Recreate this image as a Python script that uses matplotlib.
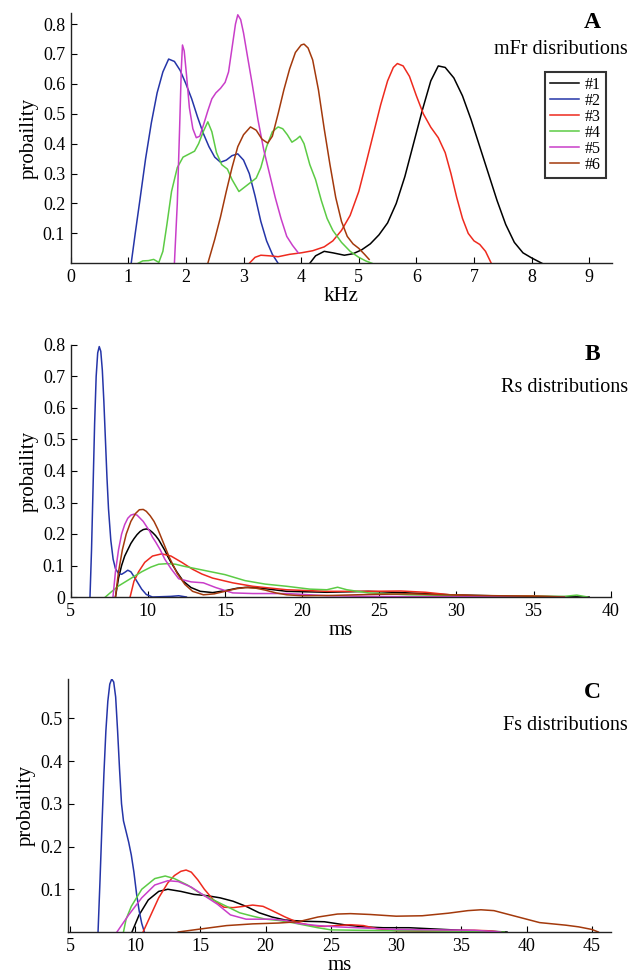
import matplotlib
matplotlib.use("Agg")
import matplotlib.pyplot as plt

plt.rcParams['font.family'] = ['Liberation Serif', 'DejaVu Serif']

W, H = 642, 973

names = ['#1', '#2', '#3', '#4', '#5', '#6']
colors = ['#000000', '#2535a8', '#ee2a1e', '#5ccb45', '#c93ec9', '#a3390c']

# ---- panel A: mFr distributions (kHz) ----
a1_x = [4.15, 4.25, 4.4, 4.55, 4.75, 4.9, 5.05, 5.2, 5.35, 5.5, 5.65, 5.8, 5.95, 6.1, 6.25, 6.38, 6.5, 6.65, 6.8, 6.95, 7.1, 7.25, 7.4, 7.55, 7.7, 7.85, 8.0, 8.1, 8.18]
a1_y = [0.0, 0.025, 0.04, 0.035, 0.027, 0.032, 0.045, 0.065, 0.095, 0.135, 0.2, 0.29, 0.4, 0.51, 0.61, 0.66, 0.655, 0.62, 0.56, 0.48, 0.39, 0.3, 0.21, 0.13, 0.07, 0.035, 0.018, 0.008, 0.0]
a2_x = [1.05, 1.12, 1.2, 1.3, 1.4, 1.5, 1.6, 1.7, 1.8, 1.9, 2.0, 2.1, 2.2, 2.3, 2.4, 2.5, 2.6, 2.7, 2.8, 2.9, 3.0, 3.1, 3.2, 3.3, 3.4, 3.5, 3.6]
a2_y = [0.0, 0.1, 0.21, 0.35, 0.47, 0.57, 0.64, 0.683, 0.675, 0.645, 0.6, 0.55, 0.49, 0.435, 0.39, 0.355, 0.338, 0.345, 0.36, 0.366, 0.345, 0.3, 0.225, 0.14, 0.075, 0.03, 0.0]
a3_x = [3.1, 3.2, 3.3, 3.45, 3.6, 3.8, 4.0, 4.2, 4.4, 4.55, 4.7, 4.85, 5.0, 5.12, 5.25, 5.38, 5.5, 5.6, 5.67, 5.77, 5.88, 6.0, 6.12, 6.25, 6.38, 6.5, 6.6, 6.7, 6.8, 6.9, 7.0, 7.1, 7.2, 7.3]
a3_y = [0.0, 0.02, 0.027, 0.025, 0.022, 0.03, 0.035, 0.042, 0.055, 0.075, 0.11, 0.16, 0.24, 0.33, 0.43, 0.53, 0.61, 0.655, 0.668, 0.66, 0.625, 0.56, 0.5, 0.455, 0.42, 0.37, 0.3, 0.22, 0.15, 0.1, 0.075, 0.063, 0.04, 0.0]
a4_x = [1.17, 1.25, 1.35, 1.44, 1.53, 1.6, 1.67, 1.75, 1.85, 1.95, 2.05, 2.15, 2.22, 2.3, 2.38, 2.45, 2.53, 2.62, 2.72, 2.8, 2.92, 3.02, 3.12, 3.22, 3.3, 3.4, 3.5, 3.6, 3.68, 3.76, 3.84, 3.92, 3.98, 4.05, 4.15, 4.25, 4.35, 4.45, 4.55, 4.7, 4.85, 5.0, 5.12, 5.23]
a4_y = [0.0, 0.008, 0.009, 0.013, 0.003, 0.04, 0.13, 0.24, 0.32, 0.355, 0.365, 0.375, 0.4, 0.44, 0.473, 0.44, 0.37, 0.33, 0.315, 0.28, 0.24, 0.255, 0.27, 0.285, 0.32, 0.39, 0.44, 0.456, 0.45, 0.43, 0.405, 0.415, 0.425, 0.4, 0.33, 0.28, 0.21, 0.15, 0.11, 0.07, 0.04, 0.02, 0.008, 0.0]
a5_x = [1.8, 1.85, 1.89, 1.92, 1.94, 1.97, 2.01, 2.06, 2.12, 2.18, 2.24, 2.3, 2.38, 2.45, 2.52, 2.6, 2.68, 2.74, 2.8, 2.86, 2.9, 2.95, 3.0, 3.07, 3.15, 3.25, 3.35, 3.45, 3.55, 3.65, 3.75, 3.85, 3.95]
a5_y = [0.0, 0.2, 0.45, 0.65, 0.73, 0.71, 0.63, 0.52, 0.45, 0.42, 0.425, 0.46, 0.51, 0.55, 0.57, 0.585, 0.605, 0.64, 0.72, 0.8, 0.831, 0.815, 0.77, 0.69, 0.6, 0.48, 0.38, 0.3, 0.22, 0.15, 0.09, 0.06, 0.035]
a6_x = [2.38, 2.5, 2.6, 2.7, 2.8, 2.9, 3.0, 3.12, 3.22, 3.32, 3.42, 3.5, 3.6, 3.7, 3.8, 3.9, 4.0, 4.05, 4.12, 4.2, 4.3, 4.4, 4.5, 4.6, 4.7, 4.8, 4.9, 5.0, 5.1, 5.18]
a6_y = [0.0, 0.08, 0.155, 0.24, 0.32, 0.39, 0.43, 0.456, 0.445, 0.415, 0.402, 0.425, 0.5, 0.58, 0.65, 0.705, 0.73, 0.733, 0.72, 0.68, 0.58, 0.45, 0.33, 0.22, 0.14, 0.09, 0.065, 0.05, 0.03, 0.013]

# ---- panel B: Rs distributions (ms) ----
b1_x = [7.9, 8.1, 8.3, 8.5, 8.7, 8.9, 9.1, 9.3, 9.5, 9.7, 9.9, 10.1, 10.3, 10.5, 10.7, 10.9, 11.1, 11.3, 11.5, 11.9, 12.3, 12.8, 13.4, 14.2, 15.0, 15.8, 16.5, 17.2, 18.0, 19.0, 21.6, 24.3, 26.9, 29.6, 32.2, 34.9, 38.6]
b1_y = [0.0, 0.06, 0.1, 0.13, 0.15, 0.17, 0.185, 0.198, 0.208, 0.214, 0.216, 0.213, 0.205, 0.195, 0.182, 0.165, 0.148, 0.128, 0.11, 0.078, 0.05, 0.03, 0.018, 0.014, 0.02, 0.028, 0.031, 0.029, 0.024, 0.018, 0.015, 0.018, 0.013, 0.007, 0.004, 0.002, 0.0]
b2_x = [6.25, 6.35, 6.45, 6.55, 6.65, 6.75, 6.85, 6.95, 7.05, 7.15, 7.25, 7.35, 7.45, 7.6, 7.75, 7.9, 8.1, 8.3, 8.5, 8.7, 8.9, 9.1, 9.35, 9.6, 9.9, 10.3, 11.5, 12.0, 12.5]
b2_y = [0.0, 0.15, 0.35, 0.55, 0.7, 0.775, 0.795, 0.78, 0.72, 0.62, 0.5, 0.38, 0.28, 0.18, 0.12, 0.09, 0.075, 0.072, 0.078, 0.085, 0.08, 0.065, 0.045, 0.025, 0.008, 0.0, 0.002, 0.004, 0.0]
b3_x = [8.85, 9.1, 9.4, 9.8, 10.3, 10.9, 11.5, 12.2, 12.9, 13.5, 14.2, 15.5, 16.8, 19.0, 21.6, 24.3, 26.4, 28.0, 29.6, 32.2, 34.9, 37.0]
b3_y = [0.0, 0.05, 0.08, 0.11, 0.13, 0.137, 0.13, 0.11, 0.088, 0.073, 0.06, 0.045, 0.034, 0.023, 0.018, 0.018, 0.019, 0.015, 0.007, 0.002, 0.004, 0.0]
b4_x = [7.25, 7.6, 8.1, 8.6, 9.1, 9.6, 10.2, 10.7, 11.3, 11.8, 12.3, 13.6, 15.0, 16.3, 17.6, 19.0, 20.5, 21.6, 22.3, 22.9, 24.3, 26.9, 29.6, 32.2, 34.9, 37.0, 37.8, 38.5]
b4_y = [0.0, 0.015, 0.035, 0.05, 0.065, 0.08, 0.095, 0.104, 0.106, 0.104, 0.098, 0.085, 0.071, 0.052, 0.041, 0.034, 0.025, 0.023, 0.031, 0.023, 0.013, 0.007, 0.005, 0.002, 0.002, 0.002, 0.006, 0.0]
b5_x = [7.74, 7.9, 8.1, 8.3, 8.5, 8.7, 8.9, 9.1, 9.3, 9.5, 9.7, 9.9, 10.1, 10.3, 10.5, 10.8, 11.1, 11.5, 12.0, 12.8, 13.6, 14.4, 15.5, 16.8, 19.0, 21.6, 24.3, 27.0, 32.0, 37.0]
b5_y = [0.0, 0.08, 0.15, 0.2, 0.23, 0.25, 0.26, 0.263, 0.26, 0.25, 0.24, 0.225, 0.21, 0.19, 0.175, 0.15, 0.12, 0.09, 0.058, 0.048, 0.045, 0.03, 0.013, 0.011, 0.011, 0.004, 0.002, 0.001, 0.001, 0.0]
b6_x = [7.9, 8.1, 8.35, 8.6, 8.9, 9.2, 9.45, 9.7, 9.9, 10.15, 10.4, 10.65, 10.9, 11.15, 11.4, 11.65, 11.9, 12.4, 12.9, 13.6, 14.3, 15.0, 15.7, 16.3, 17.0, 17.6, 18.3, 19.0, 20.0, 22.0, 24.3, 27.0, 30.0, 34.0, 37.0]
b6_y = [0.0, 0.08, 0.15, 0.2, 0.24, 0.265, 0.277, 0.278, 0.272, 0.258, 0.24, 0.215, 0.185, 0.155, 0.125, 0.1, 0.075, 0.04, 0.018, 0.007, 0.01, 0.018, 0.026, 0.03, 0.028, 0.022, 0.013, 0.007, 0.004, 0.005, 0.008, 0.01, 0.006, 0.003, 0.0]

# ---- panel C: Fs distributions (ms) ----
c1_x = [9.75, 10.3, 11.0, 11.8, 12.5, 13.5, 14.5, 15.5, 16.5, 17.5, 18.5, 19.5, 20.5, 21.5, 23.0, 24.5, 26.0, 27.5, 29.0, 31.0, 33.0, 35.0, 37.0, 38.5]
c1_y = [0.0, 0.04, 0.075, 0.095, 0.1, 0.095, 0.088, 0.085, 0.08, 0.072, 0.06, 0.045, 0.035, 0.028, 0.025, 0.024, 0.017, 0.012, 0.01, 0.01, 0.007, 0.004, 0.002, 0.0]
c2_x = [7.15, 7.3, 7.45, 7.6, 7.75, 7.9, 8.05, 8.2, 8.35, 8.5, 8.65, 8.8, 8.95, 9.1, 9.3, 9.5, 9.7, 9.9, 10.1, 10.3, 10.5, 10.7]
c2_y = [0.0, 0.12, 0.25, 0.37, 0.47, 0.54, 0.58, 0.592, 0.585, 0.55, 0.47, 0.38, 0.3, 0.26, 0.235, 0.21, 0.18, 0.14, 0.09, 0.05, 0.02, 0.0]
c3_x = [10.6, 11.2, 11.8, 12.5, 13.0, 13.5, 13.9, 14.3, 14.8, 15.3, 16.0, 16.8, 17.5, 18.3, 19.0, 19.8, 20.5, 21.5, 22.5, 23.5, 24.5, 25.5, 26.5, 27.5, 28.5, 30.0, 32.0, 34.0, 36.0, 37.0, 38.0]
c3_y = [0.0, 0.04, 0.08, 0.115, 0.132, 0.142, 0.145, 0.14, 0.122, 0.1, 0.075, 0.058, 0.057, 0.06, 0.063, 0.06, 0.05, 0.035, 0.022, 0.015, 0.013, 0.015, 0.017, 0.015, 0.008, 0.003, 0.002, 0.003, 0.004, 0.003, 0.0]
c4_x = [9.1, 9.3, 9.7, 10.5, 11.5, 12.3, 13.0, 14.0, 15.0, 16.0, 17.0, 18.0, 19.0, 20.0, 21.0, 22.0, 23.0, 24.0, 25.0, 27.0, 30.0, 35.0, 38.3]
c4_y = [0.0, 0.03, 0.06, 0.1, 0.125, 0.131, 0.125, 0.11, 0.09, 0.075, 0.06, 0.045, 0.037, 0.03, 0.027, 0.022, 0.016, 0.01, 0.005, 0.004, 0.003, 0.002, 0.0]
c5_x = [8.6, 9.5, 10.5, 11.5, 12.5, 13.3, 14.3, 15.3, 16.3, 17.3, 18.5, 19.5, 20.5, 21.5, 22.5, 24.0, 25.5, 27.0, 30.0, 33.0, 36.0, 38.0]
c5_y = [0.0, 0.04, 0.08, 0.11, 0.12, 0.118, 0.105, 0.085, 0.065, 0.04, 0.03, 0.03, 0.03, 0.027, 0.02, 0.015, 0.012, 0.01, 0.006, 0.005, 0.004, 0.0]
c6_x = [13.3, 15.0, 17.0, 19.0, 21.0, 22.5, 24.0, 25.5, 26.5, 28.0, 30.0, 32.0, 34.0, 35.5, 36.5, 37.5, 38.5, 40.0, 41.0, 42.0, 43.0, 44.0, 45.0, 45.5]
c6_y = [0.0, 0.007, 0.015, 0.019, 0.021, 0.024, 0.035, 0.042, 0.043, 0.041, 0.037, 0.038, 0.044, 0.05, 0.052, 0.05, 0.042, 0.03, 0.022, 0.019, 0.016, 0.012, 0.006, 0.0]

panels = [
    dict(xs=[a1_x, a2_x, a3_x, a4_x, a5_x, a6_x], ys=[a1_y, a2_y, a3_y, a4_y, a5_y, a6_y],
         box=(70.7, 611.7, 263.3, 12.7), xlim=(0, 9.39), ylim=(0, 0.838),
         xticks=range(0, 10), yticks=[0.1, 0.2, 0.3, 0.4, 0.5, 0.6, 0.7, 0.8],
         xlabel='kHz', letter='A', title='mFr disributions', ly=(23, 50)),
    dict(xs=[b1_x, b2_x, b3_x, b4_x, b5_x, b6_x], ys=[b1_y, b2_y, b3_y, b4_y, b5_y, b6_y],
         box=(70.7, 610.7, 597, 345), xlim=(5, 40), ylim=(0, 0.8),
         xticks=range(5, 41, 5), yticks=[0, 0.1, 0.2, 0.3, 0.4, 0.5, 0.6, 0.7, 0.8],
         xlabel='ms', letter='B', title='Rs distributions', ly=(355, 387)),
    dict(xs=[c1_x, c2_x, c3_x, c4_x, c5_x, c6_x], ys=[c1_y, c2_y, c3_y, c4_y, c5_y, c6_y],
         box=(68.3, 610.7, 932, 679), xlim=(4.87, 46.45), ylim=(0, 0.592),
         xticks=range(5, 46, 5), yticks=[0.1, 0.2, 0.3, 0.4, 0.5],
         xlabel='ms', letter='C', title='Fs distributions', ly=(693, 725)),
]

fig = plt.figure(figsize=(W / 100, H / 100), dpi=100)

for i, p in enumerate(panels):
    l, r, b, t = p['box']
    ax = fig.add_axes([l / W, 1 - b / H, (r - l) / W, (b - t) / H])
    for x, y, c, n in zip(p['xs'], p['ys'], colors, names):
        ax.plot(x, y, color=c, lw=1.1, label=n)
    ax.set_xlim(*p['xlim'])
    ax.set_ylim(*p['ylim'])
    ax.set_xticks(list(p['xticks']))
    ax.set_yticks(p['yticks'])
    ax.set_yticklabels([('%g' % v) for v in p['yticks']])
    ax.spines['top'].set_visible(False)
    ax.spines['right'].set_visible(False)
    for s in ('left', 'bottom'):
        ax.spines[s].set_linewidth(1.0)
        ax.spines[s].set_color('#222222')
    ax.tick_params(direction='in', length=4, width=0.8, labelsize=13, pad=4)
    ax.set_xlabel(p['xlabel'], fontsize=15, labelpad=1)
    ax.set_ylabel('probaility', fontsize=15, labelpad=3)
    fig.text(592 / W, 1 - p['ly'][0] / H, p['letter'], fontsize=17, fontweight='bold',
             ha='center', va='center')
    fig.text(628 / W, 1 - p['ly'][1] / H, p['title'], fontsize=14.5,
             ha='right', va='center')
    if i == 0:
        leg = ax.legend(loc='upper left', bbox_to_anchor=(545 / W, 1 - 72 / H),
                        bbox_transform=fig.transFigure, fontsize=11.5,
                        frameon=True, fancybox=False, handlelength=1.8,
                        handletextpad=0.4, labelspacing=0.0, borderpad=0.3,
                        borderaxespad=0)
        leg.get_frame().set_edgecolor('black')
        leg.get_frame().set_linewidth(1.5)

fig.savefig('out.png', dpi=100)
